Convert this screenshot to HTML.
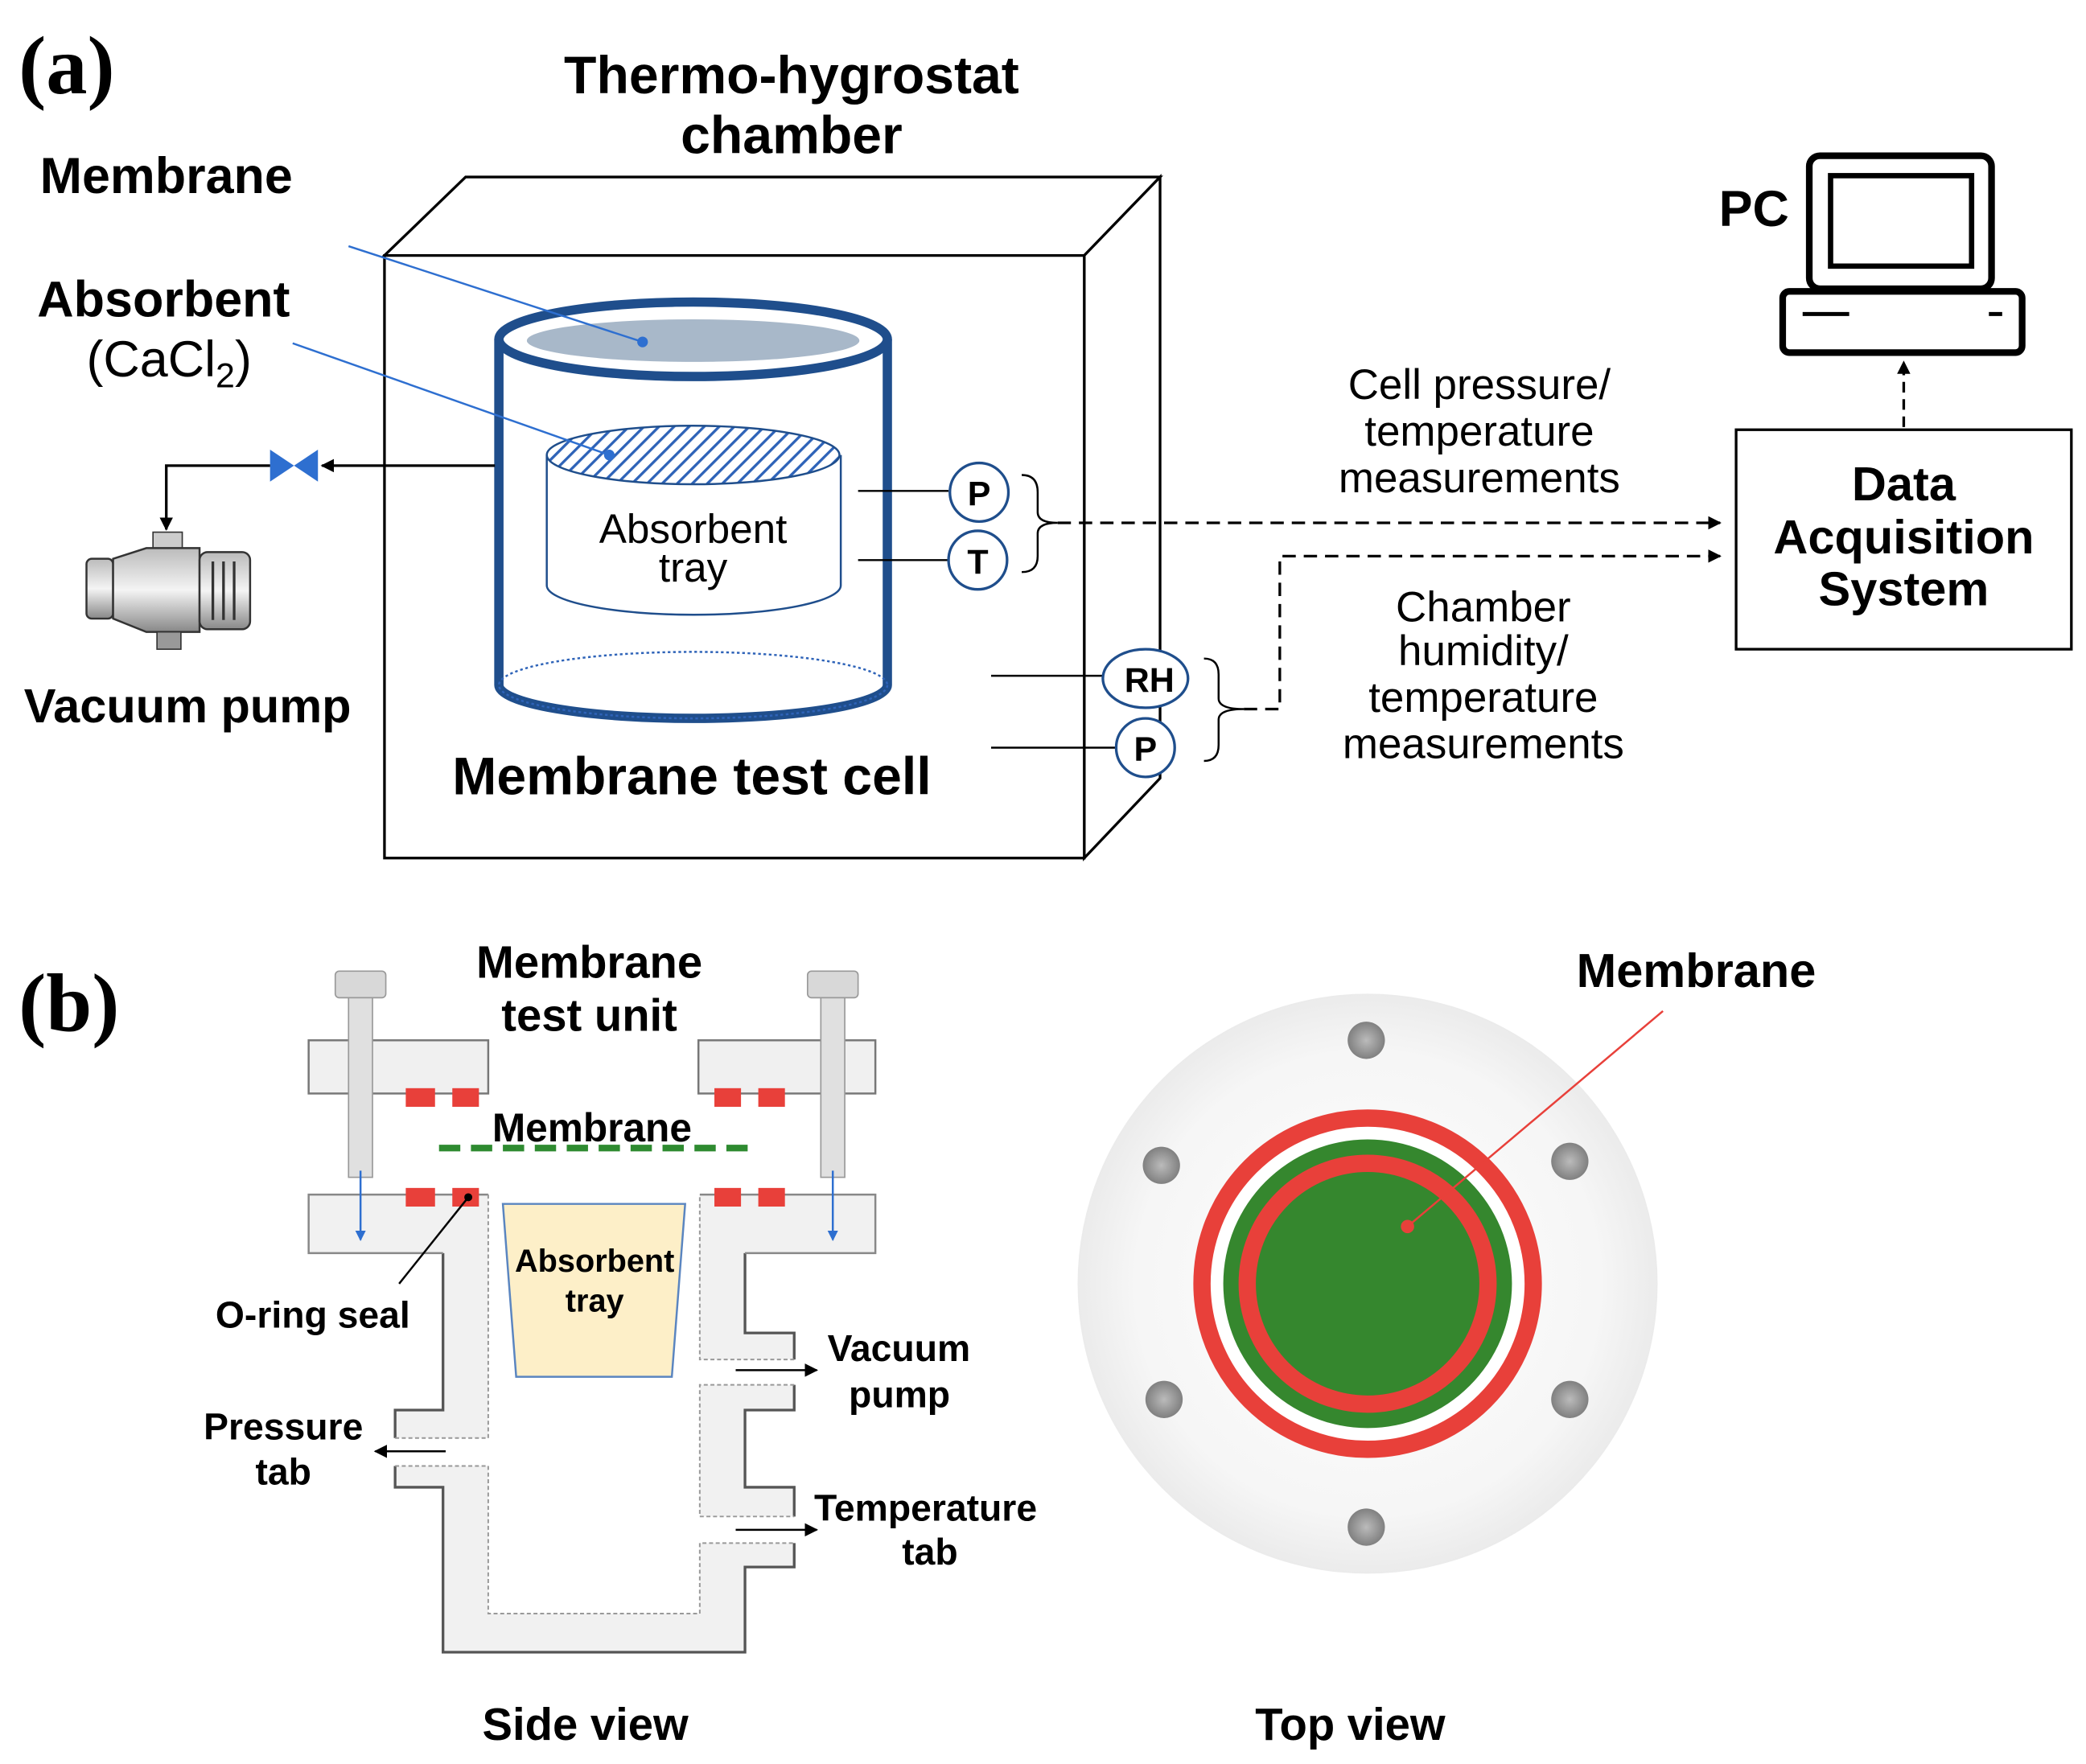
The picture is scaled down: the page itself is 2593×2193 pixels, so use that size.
<!DOCTYPE html>
<html><head><meta charset="utf-8"><style>
html,body{margin:0;padding:0;background:#fff}
svg{display:block}
text{font-family:"Liberation Sans",sans-serif}
.b{font-weight:bold}
</style></head><body>
<svg width="2593" height="2193" viewBox="0 0 1568 1326" xmlns="http://www.w3.org/2000/svg">
<defs>
<pattern id="hatch" width="8" height="8" patternUnits="userSpaceOnUse" patternTransform="rotate(45)">
<rect width="8" height="8" fill="#fff"/><line x1="0" y1="0" x2="0" y2="8" stroke="#2e63b8" stroke-width="4"/></pattern>
<marker id="ar" markerWidth="10" markerHeight="10" refX="9" refY="5" orient="auto" markerUnits="userSpaceOnUse"><path d="M0,0 L10,5 L0,10 z" fill="#000"/></marker>
<marker id="arb" markerWidth="8" markerHeight="8" refX="7" refY="4" orient="auto" markerUnits="userSpaceOnUse"><path d="M0,0 L8,4 L0,8 z" fill="#2e6fd0"/></marker>
<radialGradient id="disk" cx="0.5" cy="0.5" r="0.5"><stop offset="0" stop-color="#fdfdfd"/><stop offset="0.8" stop-color="#f6f6f6"/><stop offset="1" stop-color="#ebebeb"/></radialGradient>
<radialGradient id="hole" cx="0.5" cy="0.5" r="0.5"><stop offset="0" stop-color="#bbb"/><stop offset="1" stop-color="#808080"/></radialGradient>
<linearGradient id="pump" x1="0" y1="0" x2="0" y2="1"><stop offset="0" stop-color="#bbb"/><stop offset="0.5" stop-color="#f4f4f4"/><stop offset="1" stop-color="#888"/></linearGradient>
</defs>

<!-- (a) -->
<text x="14" y="70" class="b" font-size="62" style="font-family:'Liberation Serif',serif">(a)</text>
<text x="595" y="70" class="b" font-size="40" text-anchor="middle">Thermo-hygrostat</text>
<text x="595" y="115" class="b" font-size="40" text-anchor="middle">chamber</text>
<text x="30" y="145" class="b" font-size="38">Membrane</text>
<text x="28" y="238" class="b" font-size="38">Absorbent</text>
<text x="65" y="283" font-size="38">(CaCl<tspan font-size="26" dy="8">2</tspan><tspan dy="-8">)</tspan></text>

<polygon points="289,192 350,133 872,133 815,192" fill="#fff" stroke="#000" stroke-width="2"/>
<polygon points="815,192 872,133 872,585 815,645" fill="#fff" stroke="#000" stroke-width="2"/>
<rect x="289" y="192" width="526" height="453" fill="#fff" stroke="#000" stroke-width="2"/>

<path d="M375,255 V515 A146,25 0 0 0 667,515 V255" fill="#fff" stroke="#1f4e8c" stroke-width="7"/>
<ellipse cx="521" cy="515" rx="146" ry="25" fill="none" stroke="#2e63b8" stroke-width="1.5" stroke-dasharray="2,2"/>
<ellipse cx="521" cy="255" rx="146" ry="28" fill="#fff" stroke="#1f4e8c" stroke-width="7"/>
<ellipse cx="521" cy="256" rx="125" ry="16" fill="#a8b8c9"/>
<path d="M411,342 V440 A110,22 0 0 0 632,440 V342" fill="#fff" stroke="#1f4e8c" stroke-width="1.5"/>
<ellipse cx="521" cy="342" rx="110" ry="22" fill="url(#hatch)" stroke="#1f4e8c" stroke-width="1.5"/>
<text x="521" y="408" font-size="31" text-anchor="middle">Absorbent</text>
<text x="521" y="437" font-size="31" text-anchor="middle">tray</text>
<line x1="262" y1="185" x2="483" y2="257" stroke="#2e6fd0" stroke-width="1.5"/>
<circle cx="483" cy="257" r="4" fill="#2e6fd0"/>
<line x1="220" y1="258" x2="458" y2="342" stroke="#2e6fd0" stroke-width="1.5"/>
<circle cx="458" cy="342" r="4" fill="#2e6fd0"/>

<line x1="372" y1="350" x2="242" y2="350" stroke="#000" stroke-width="2" marker-end="url(#ar)"/>
<polygon points="203,338 221,350 203,362" fill="#2e6fd0"/>
<polygon points="239,338 221,350 239,362" fill="#2e6fd0"/>
<polyline points="203,350 125,350 125,398" fill="none" stroke="#000" stroke-width="2" marker-end="url(#ar)"/>
<rect x="115" y="400" width="22" height="12" fill="#ccc" stroke="#333"/>
<rect x="65" y="420" width="20" height="45" rx="4" fill="url(#pump)" stroke="#333" stroke-width="1.5"/>
<path d="M85,420 L110,412 H150 V475 H110 L85,465 z" fill="url(#pump)" stroke="#333" stroke-width="1.5"/>
<rect x="150" y="415" width="38" height="58" rx="6" fill="url(#pump)" stroke="#333" stroke-width="1.5"/>
<g stroke="#333" stroke-width="2"><line x1="160" y1="422" x2="160" y2="466"/><line x1="168" y1="422" x2="168" y2="466"/><line x1="176" y1="422" x2="176" y2="466"/></g>
<rect x="118" y="475" width="18" height="13" fill="#999" stroke="#333"/>
<text x="18" y="543" class="b" font-size="36">Vacuum pump</text>

<g stroke="#000" stroke-width="1.5" fill="#fff">
<line x1="645" y1="369" x2="713" y2="369"/>
<line x1="645" y1="421" x2="713" y2="421"/>
<line x1="745" y1="508" x2="829" y2="508"/>
<line x1="745" y1="562" x2="839" y2="562"/>
</g>
<g stroke="#1f4e8c" stroke-width="2" fill="#fff">
<circle cx="736" cy="370" r="22"/>
<circle cx="735" cy="421" r="22"/>
<ellipse cx="861" cy="510" rx="32" ry="22"/>
<circle cx="861" cy="562" r="22"/>
</g>
<text x="736" y="380" class="b" font-size="26" text-anchor="middle">P</text>
<text x="735" y="431" class="b" font-size="26" text-anchor="middle">T</text>
<text x="864" y="520" class="b" font-size="26" text-anchor="middle">RH</text>
<text x="861" y="572" class="b" font-size="26" text-anchor="middle">P</text>
<path d="M768,357 Q780,357 780,370 V385 Q780,393 795,393 Q780,393 780,401 V418 Q780,430 768,430" fill="none" stroke="#000" stroke-width="1.5"/>
<path d="M905,495 Q916,495 916,507 V525 Q916,533 935,533 Q916,533 916,541 V560 Q916,572 905,572" fill="none" stroke="#000" stroke-width="1.5"/>
<line x1="795" y1="393" x2="1293" y2="393" stroke="#000" stroke-width="2" stroke-dasharray="10,6" marker-end="url(#ar)"/>
<polyline points="935,533 962,533 962,418 1293,418" fill="none" stroke="#000" stroke-width="2" stroke-dasharray="10,6" marker-end="url(#ar)"/>
<g font-size="32" text-anchor="middle">
<text x="1112" y="300">Cell pressure/</text>
<text x="1112" y="335">temperature</text>
<text x="1112" y="370">measurements</text>
<text x="1115" y="467">Chamber</text>
<text x="1115" y="500">humidity/</text>
<text x="1115" y="535">temperature</text>
<text x="1115" y="570">measurements</text>
</g>
<text x="520" y="597" class="b" font-size="40" text-anchor="middle">Membrane test cell</text>

<rect x="1305" y="323" width="252" height="165" fill="#fff" stroke="#000" stroke-width="2"/>
<g class="b" font-size="36" text-anchor="middle">
<text x="1431" y="376">Data</text><text x="1431" y="416">Acquisition</text><text x="1431" y="455">System</text></g>
<line x1="1431" y1="321" x2="1431" y2="272" stroke="#000" stroke-width="2" stroke-dasharray="8,5" marker-end="url(#ar)"/>
<rect x="1360" y="117" width="137" height="100" rx="8" fill="#fff" stroke="#000" stroke-width="5"/>
<rect x="1376" y="132" width="106" height="68" fill="#fff" stroke="#000" stroke-width="4"/>
<rect x="1340" y="219" width="180" height="46" rx="5" fill="#fff" stroke="#000" stroke-width="5"/>
<line x1="1355" y1="236" x2="1390" y2="236" stroke="#000" stroke-width="3"/>
<line x1="1495" y1="236" x2="1505" y2="236" stroke="#000" stroke-width="3"/>
<text x="1292" y="170" class="b" font-size="38">PC</text>

<!-- (b) -->
<text x="14" y="775" class="b" font-size="62" style="font-family:'Liberation Serif',serif">(b)</text>
<text x="443" y="735" class="b" font-size="34" text-anchor="middle">Membrane</text>
<text x="443" y="775" class="b" font-size="34" text-anchor="middle">test unit</text>

<!-- side view body -->
<g fill="#f1f1f1" stroke="none">
<polygon points="297,1102 367,1102 367,1213 526,1213 526,1160 597,1160 597,1178 560,1178 560,1242 333,1242 333,1118 297,1118"/>
<polygon points="333,940 367,940 367,1081 297,1081 297,1060 333,1060"/>
<polygon points="526,940 560,940 560,1002 597,1002 597,1022 526,1022"/>
<polygon points="526,1041 597,1041 597,1060 560,1060 560,1118 597,1118 597,1140 526,1140"/>
<rect x="232" y="898" width="135" height="44"/>
<rect x="526" y="898" width="132" height="44"/>
</g>
<g fill="none" stroke="#555" stroke-width="2">
<path d="M333,942 V1060 H297 V1081"/>
<path d="M297,1102 V1118 H333 V1242 H560 V1178 H597 V1160"/>
<path d="M560,942 V1002 H597 V1022"/>
<path d="M597,1041 V1060 H560 V1118 H597 V1140"/>
</g>
<g fill="none" stroke="#888" stroke-width="1.5">
<path d="M367,898 H232 V942 H333"/>
<path d="M526,898 H658 V942 H560"/>
</g>
<g fill="none" stroke="#999" stroke-width="1.2" stroke-dasharray="3,2">
<path d="M297,1081 H367 V898"/>
<path d="M297,1102 H367 V1213 H526 V1160 H597"/>
<path d="M597,1022 H526 V898"/>
<path d="M597,1041 H526 V1140 H597"/>
</g>
<g fill="#f0f0f0" stroke="#777" stroke-width="1.5">
<rect x="232" y="782" width="135" height="40"/>
<rect x="525" y="782" width="133" height="40"/>
</g>
<g fill="#d8d8d8" stroke="#999">
<rect x="252" y="730" width="38" height="20" rx="3"/>
<rect x="607" y="730" width="38" height="20" rx="3"/>
<rect x="262" y="750" width="18" height="135" fill="#e0e0e0"/>
<rect x="617" y="750" width="18" height="135" fill="#e0e0e0"/>
</g>
<line x1="271" y1="880" x2="271" y2="932" stroke="#2e6fd0" stroke-width="1.5" marker-end="url(#arb)"/>
<line x1="626" y1="880" x2="626" y2="932" stroke="#2e6fd0" stroke-width="1.5" marker-end="url(#arb)"/>
<g fill="#e8403a">
<rect x="305" y="818" width="22" height="14"/><rect x="340" y="818" width="20" height="14"/>
<rect x="537" y="818" width="20" height="14"/><rect x="570" y="818" width="20" height="14"/>
<rect x="305" y="893" width="22" height="14"/><rect x="340" y="893" width="20" height="14"/>
<rect x="537" y="893" width="20" height="14"/><rect x="570" y="893" width="20" height="14"/>
</g>
<line x1="330" y1="863" x2="567" y2="863" stroke="#2e8b30" stroke-width="5" stroke-dasharray="16,8"/>
<text x="445" y="858" class="b" font-size="30" text-anchor="middle">Membrane</text>
<polygon points="378,905 515,905 505,1035 388,1035" fill="#fdefc8" stroke="#5a85c0" stroke-width="1.5"/>
<text x="447" y="956" class="b" font-size="24" text-anchor="middle">Absorbent</text>
<text x="447" y="986" class="b" font-size="24" text-anchor="middle">tray</text>
<line x1="300" y1="965" x2="352" y2="900" stroke="#000" stroke-width="1.5"/>
<circle cx="352" cy="900" r="3" fill="#000"/>
<text x="162" y="998" class="b" font-size="28">O-ring seal</text>
<text x="213" y="1082" class="b" font-size="28" text-anchor="middle">Pressure</text>
<text x="213" y="1116" class="b" font-size="28" text-anchor="middle">tab</text>
<line x1="335" y1="1091" x2="282" y2="1091" stroke="#000" stroke-width="1.5" marker-end="url(#ar)"/>
<text x="622" y="1023" class="b" font-size="28">Vacuum</text>
<text x="638" y="1058" class="b" font-size="28">pump</text>
<line x1="553" y1="1030" x2="614" y2="1030" stroke="#000" stroke-width="1.5" marker-end="url(#ar)"/>
<text x="612" y="1143" class="b" font-size="28">Temperature</text>
<text x="678" y="1176" class="b" font-size="28">tab</text>
<line x1="553" y1="1150" x2="614" y2="1150" stroke="#000" stroke-width="1.5" marker-end="url(#ar)"/>
<text x="440" y="1308" class="b" font-size="34" text-anchor="middle">Side view</text>

<!-- top view -->
<circle cx="1028" cy="965" r="218" fill="url(#disk)"/>
<g fill="url(#hole)">
<circle cx="1027" cy="782" r="14"/><circle cx="873" cy="876" r="14"/><circle cx="1180" cy="873" r="14"/>
<circle cx="875" cy="1052" r="14"/><circle cx="1180" cy="1052" r="14"/><circle cx="1027" cy="1148" r="14"/>
</g>
<circle cx="1028" cy="965" r="124.5" fill="#fff" stroke="#e8403a" stroke-width="13"/>
<circle cx="1028" cy="965" r="108.5" fill="#35872e"/>
<circle cx="1028" cy="965" r="90.5" fill="#35872e" stroke="#e8403a" stroke-width="13"/>
<line x1="1058" y1="922" x2="1250" y2="760" stroke="#e8403a" stroke-width="1.5"/>
<circle cx="1058" cy="922" r="5" fill="#e8403a"/>
<text x="1275" y="742" class="b" font-size="36" text-anchor="middle">Membrane</text>
<text x="1015" y="1308" class="b" font-size="34" text-anchor="middle">Top view</text>
</svg>
</body></html>
